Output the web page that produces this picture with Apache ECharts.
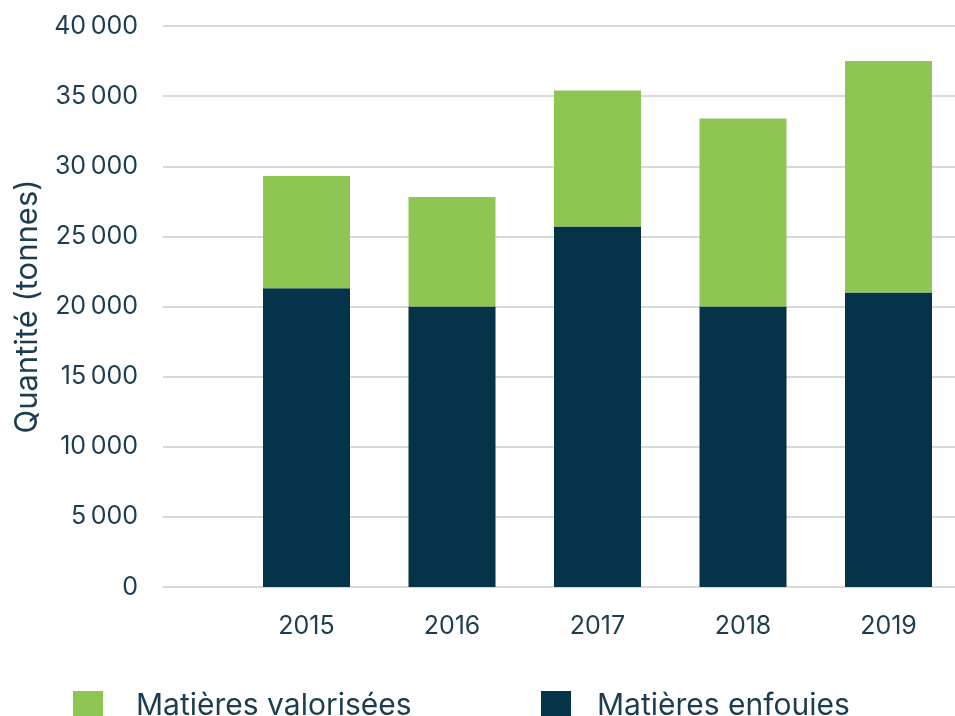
<!DOCTYPE html>
<html>
<head>
<meta charset="utf-8">
<script src="https://cdn.jsdelivr.net/npm/echarts@6/dist/echarts.min.js"></script>
<style>
html,body{margin:0;padding:0;background:#fff;}
#chart{width:955px;height:716px;}
</style>
</head>
<body>
<div id="chart"></div>
<script>
var categories = ['2015', '2016', '2017', '2018', '2019'];
var enfouies = [21300, 20000, 25700, 20000, 21000];
var valorisees = [8000, 7800, 9700, 13400, 16500];
var seriesNames = ['Matières valorisées', 'Matières enfouies'];
var yTicks = [0, 5000, 10000, 15000, 20000, 25000, 30000, 35000, 40000];

var textColor = '#1b3d4f';
var darkColor = '#04334a';
var greenColor = '#8fc653';
var font = 'Inter';

function fmt(v) {
  var s = String(v);
  if (s.length > 3) s = s.slice(0, s.length - 3) + '\u2009' + s.slice(s.length - 3);
  return s;
}

var chart = echarts.init(document.getElementById('chart'), null, {renderer: 'canvas'});
chart.setOption({
  animation: false,
  backgroundColor: '#ffffff',
  textStyle: {fontFamily: font, color: textColor},
  grid: [
    {left: 163, right: 0, top: 26, bottom: 129},
    {left: 306.5, width: 582, top: 26, bottom: 129}
  ],
  legend: [
    {
      data: [seriesNames[0]], left: 68, top: 686, itemWidth: 30, itemHeight: 30,
      icon: 'rect', textStyle: {fontSize: 30, color: textColor, fontFamily: font, padding: [0, 0, 0, 28]}
    },
    {
      data: [seriesNames[1]], left: 536, top: 686, itemWidth: 30, itemHeight: 30,
      icon: 'rect', textStyle: {fontSize: 30, color: textColor, fontFamily: font, padding: [0, 0, 0, 21]}
    }
  ],
  xAxis: [
    {gridIndex: 0, type: 'category', data: categories, show: false},
    {
      gridIndex: 1, type: 'category', data: categories, boundaryGap: false,
      axisLine: {show: false}, axisTick: {show: false},
      axisLabel: {fontSize: 25, color: textColor, fontFamily: font, margin: 27}
    }
  ],
  yAxis: [
    {
      gridIndex: 0, type: 'value', min: yTicks[0], max: yTicks[yTicks.length - 1], interval: 5000,
      name: 'Quantité (tonnes)', nameLocation: 'middle', nameGap: 118,
      nameTextStyle: {fontSize: 31, color: textColor, fontFamily: font},
      axisLine: {show: false}, axisTick: {show: false},
      axisLabel: {fontSize: 25, color: textColor, fontFamily: font, margin: 25, formatter: fmt},
      splitLine: {show: true, lineStyle: {color: '#d9d9d9', width: 2}}
    },
    {
      gridIndex: 1, type: 'value', min: yTicks[0], max: yTicks[yTicks.length - 1], interval: 5000,
      show: false, splitLine: {show: false}
    }
  ],
  series: [
    {
      name: seriesNames[1], type: 'bar', stack: 'total', xAxisIndex: 1, yAxisIndex: 1,
      data: enfouies, barWidth: 87, itemStyle: {color: darkColor}
    },
    {
      name: seriesNames[0], type: 'bar', stack: 'total', xAxisIndex: 1, yAxisIndex: 1,
      data: valorisees, barWidth: 87, itemStyle: {color: greenColor}
    }
  ]
});
</script>
</body>
</html>
